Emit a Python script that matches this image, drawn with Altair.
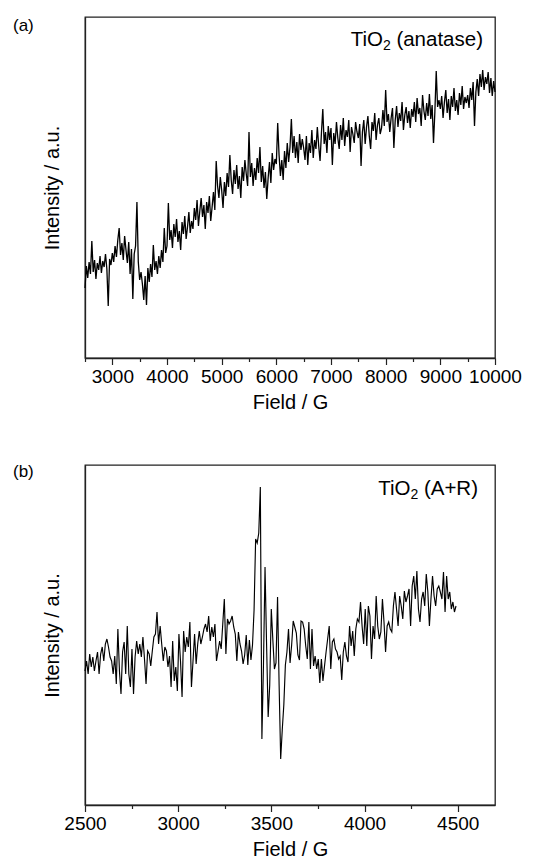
import altair as alt
import numpy as np
import pandas as pd

FONT = "Liberation Sans"

# ---------- Panel (a): TiO2 (anatase), field 2500-10000 G, step 25 G ----------
field_a = np.arange(2500, 10001, 25)
intensity_a = [
    70, 92, 80, 96, 84, 117, 86, 98, 79, 95, 88, 102, 85, 97, 91, 104, 89, 52, 99, 93,
    105, 96, 112, 101, 118, 130, 103, 115, 98, 122, 108, 95, 116, 84, 109, 59, 104, 112, 156, 96,
    78, 86, 74, 58, 82, 53, 90, 76, 94, 81, 113, 88, 97, 84, 102, 90, 108, 96, 130, 105,
    112, 155, 118, 128, 110, 134, 121, 139, 116, 127, 108, 136, 124, 142, 119, 131, 146, 125, 137, 129,
    150, 138, 158, 132, 147, 160, 141, 153, 129, 156, 145, 162, 137, 151, 166, 148, 197, 172, 160, 181,
    168, 150, 176, 162, 185, 171, 203, 178, 164, 188, 174, 193, 169, 182, 160, 191, 177, 198, 184, 172,
    226, 181, 195, 172, 190, 178, 200, 185, 211, 176, 192, 170, 186, 159, 180, 196, 175, 205, 188, 199,
    194, 235, 203, 182, 198, 178, 207, 190, 215, 196, 211, 239, 205, 222, 200, 216, 195, 224, 208, 219,
    210, 198, 222, 193, 215, 205, 228, 200, 218, 209, 231, 212, 197, 225, 249, 214, 226, 205, 232, 218,
    230, 193, 225, 214, 236, 220, 209, 233, 218, 240, 212, 228, 221, 238, 206, 231, 224, 215, 236, 226,
    220, 234, 192, 226, 238, 214, 231, 242, 222, 209, 236, 227, 245, 218, 233, 240, 224, 230, 248, 232,
    268, 236, 244, 226, 240, 250, 210, 238, 252, 231, 245, 237, 256, 228, 243, 251, 235, 247, 230, 249,
    241, 256, 236, 260, 244, 250, 232, 263, 247, 238, 255, 242, 264, 239, 253, 215, 246, 287, 251, 258,
    249, 262, 240, 256, 268, 245, 259, 238, 262, 251, 270, 247, 258, 243, 265, 253, 272, 249, 261, 255,
    263, 250, 270, 258, 276, 232, 266, 279, 262, 284, 271, 288, 268, 281, 274, 286, 265, 280, 262, 277,
    266,
]

# ---------- Panel (b): TiO2 (A+R), field 2500-4491 G, step 8.4 G ----------
intensity_b = [
    # 2500 - 3348 G
    134, 144, 131, 151, 138, 148, 134, 144, 153, 131, 151, 158, 144, 161, 166, 158, 148, 144, 131, 149,
    121, 176, 134, 111, 153, 163, 131, 179, 131, 118, 156, 111, 148, 164, 151, 161, 148, 168, 146, 121,
    154, 151, 139, 154, 168, 171, 193, 161, 179, 161, 144, 158, 154, 138, 149, 118, 164, 124, 138, 114,
    171, 144, 108, 174, 153, 168, 158, 183, 118, 144, 171, 141, 161, 174, 161, 168, 176, 181, 173, 189,
    164, 178, 168, 181, 144, 154, 164, 156, 181, 206, 151, 186, 181, 184, 189, 178, 171, 144, 173, 161,
    154, 141,
    # 3357 - 3651 G (central signal)
    150, 170, 140, 165, 145, 160, 195, 266, 262, 272, 318, 66, 140, 238, 160, 88, 120, 196, 165, 136,
    142, 208, 120, 46, 75, 100, 140, 153, 176, 142, 160, 184, 178, 172, 150, 145,
    # 3659 - 4491 G
    184, 183, 176, 159, 146, 183, 136, 176, 139, 149, 136, 146, 122, 146, 124, 139, 153, 166, 179, 136,
    163, 166, 156, 153, 146, 149, 125, 153, 163, 149, 143, 179, 159, 174, 149, 176, 186, 183, 203, 179,
    161, 196, 159, 199, 189, 146, 179, 166, 209, 179, 166, 173, 206, 183, 153, 179, 183, 176, 173, 199,
    213, 196, 179, 209, 199, 186, 214, 203, 209, 216, 179, 219, 229, 206, 234, 196, 183, 206, 213, 199,
    231, 213, 179, 206, 229, 209, 199, 216, 219, 213, 206, 233, 193, 229, 206, 213, 196, 203, 193, 199,
]
field_b = 2500 + 8.4 * np.arange(len(intensity_b))

df_a = pd.DataFrame({"field": field_a, "intensity": intensity_a})
df_b = pd.DataFrame({"field": field_b, "intensity": intensity_b})

W = 410
ANN_SIZE = 20.5
SUB_SIZE = 14


def panel(df, xdom, xvals, major, tag, ann_tail, ydom, h, ann_x, ann_y, tag_y, lw):
    line = alt.Chart(df).mark_line(color="black", strokeWidth=lw).encode(
        x=alt.X(
            "field:Q",
            scale=alt.Scale(domain=xdom, nice=False, zero=False),
            axis=alt.Axis(
                values=xvals,
                format="d",
                labelExpr=f"datum.value % {major} === 0 ? datum.label : ''",
                labelOverlap=False,
                labelFlush=False,
                tickSize={"condition": {"test": f"datum.value % {major} === 0", "value": 6.5}, "value": 3.5},
                title="Field / G",
                grid=False,
            ),
        ),
        y=alt.Y(
            "intensity:Q",
            scale=alt.Scale(domain=ydom, nice=False, zero=False),
            axis=alt.Axis(labels=False, ticks=False, title="Intensity / a.u.", grid=False),
        ),
    )
    one = pd.DataFrame({"t": [0]})
    tag_mark = alt.Chart(one).mark_text(
        text=tag, align="left", baseline="middle", fontSize=17, font=FONT, color="black"
    ).encode(x=alt.value(-72), y=alt.value(tag_y))
    # "TiO" + subscript "2" + " (...)", right-aligned at ann_x
    tail_w = sum({"(": .333, ")": .333, "a": .556, "n": .556, "t": .278, "s": .5, "e": .556,
                  "A": .667, "+": .584, "R": .722}[c] for c in ann_tail) * ANN_SIZE
    space_w = 0.278 * ANN_SIZE
    sub_right = ann_x - tail_w - space_w
    sub_w = 0.556 * SUB_SIZE
    tail_mark = alt.Chart(one).mark_text(
        text=ann_tail, align="right", baseline="alphabetic", fontSize=ANN_SIZE, font=FONT, color="black"
    ).encode(x=alt.value(ann_x), y=alt.value(ann_y))
    sub_mark = alt.Chart(one).mark_text(
        text="2", align="right", baseline="alphabetic", fontSize=SUB_SIZE, font=FONT, color="black"
    ).encode(x=alt.value(sub_right), y=alt.value(ann_y + 4))
    head_mark = alt.Chart(one).mark_text(
        text="TiO", align="right", baseline="alphabetic", fontSize=ANN_SIZE, font=FONT, color="black"
    ).encode(x=alt.value(sub_right - sub_w), y=alt.value(ann_y))
    return alt.layer(line, tag_mark, head_mark, sub_mark, tail_mark).properties(width=W, height=h)


pa = panel(df_a, [2500, 10000], list(range(2500, 10001, 500)), 1000, "(a)",
           "(anatase)", [0, 341], 341, 398, 29, 9, 1.3)
pb = panel(df_b, [2500, 4700], list(range(2500, 4501, 250)), 500, "(b)",
           "(A+R)", [0, 340], 340, 393, 30, 7, 1.15)

chart = alt.vconcat(pa, pb, spacing=48).properties(
    padding={"left": 4, "top": 8, "right": 5, "bottom": 2}
).configure_view(
    stroke="#222", strokeWidth=1.3
).configure_axis(
    domainColor="#222", domainWidth=1.3, tickColor="#222", tickWidth=1.2,
    labelFont=FONT, labelFontSize=19, labelColor="black", labelPadding=3,
    titleFont=FONT, titleFontSize=20, titleFontWeight="normal", titleColor="black",
).configure_axisX(titlePadding=6).configure_axisY(titlePadding=23)

chart.save("out.html", embed_options={"renderer": "svg", "actions": False})
